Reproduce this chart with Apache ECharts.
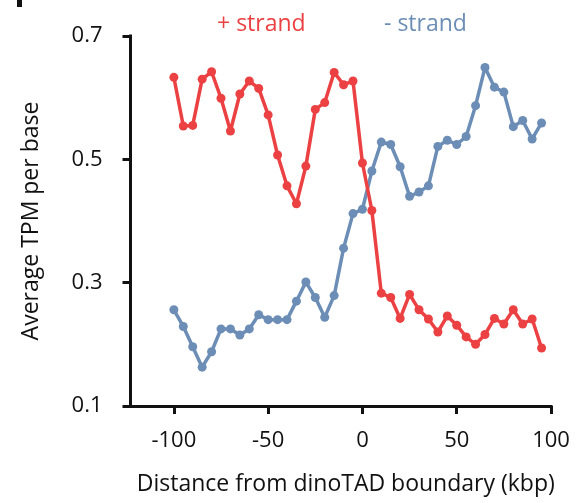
<!DOCTYPE html>
<html>
<head>
<meta charset="utf-8">
<script src="https://cdn.jsdelivr.net/npm/echarts@6/dist/echarts.min.js"></script>
<style>
  html, body { margin: 0; padding: 0; background: #fff; }
  #chart { width: 586px; height: 503px; }
</style>
</head>
<body>
<div id="chart"></div>
<script>
// Bin centres (kbp from boundary)
const distances = [
  -100, -95, -90, -85, -80, -75, -70, -65, -60, -55,
  -50, -45, -40, -35, -30, -25, -20, -15, -10, -5,
  0, 5, 10, 15, 20, 25, 30, 35, 40, 45,
  50, 55, 60, 65, 70, 75, 80, 85, 90, 95
];

// Average TPM per base, + strand
const plusStrand = [
  0.633, 0.554, 0.555, 0.630, 0.642, 0.599, 0.546, 0.606, 0.627, 0.615,
  0.572, 0.507, 0.457, 0.428, 0.489, 0.581, 0.592, 0.641, 0.621, 0.627,
  0.494, 0.417, 0.283, 0.276, 0.242, 0.281, 0.256, 0.241, 0.220, 0.246,
  0.231, 0.212, 0.200, 0.216, 0.242, 0.233, 0.256, 0.233, 0.241, 0.194
];

// Average TPM per base, - strand
const minusStrand = [
  0.256, 0.229, 0.196, 0.163, 0.188, 0.225, 0.225, 0.215, 0.225, 0.248,
  0.240, 0.240, 0.240, 0.270, 0.301, 0.276, 0.244, 0.279, 0.356, 0.412,
  0.419, 0.481, 0.528, 0.524, 0.488, 0.440, 0.447, 0.457, 0.521, 0.531,
  0.524, 0.537, 0.587, 0.649, 0.617, 0.609, 0.553, 0.563, 0.533, 0.559
];

const xTicks = [-100, -50, 0, 50, 100];
const yTicks = [0.1, 0.3, 0.5, 0.7];

const seriesNames = ['+ strand', '- strand'];
const RED = '#EC4143';
const BLUE = '#6C8EB6';
const FONT = 'Open Sans';

const pairs = (ys) => distances.map((d, i) => [d, ys[i]]);

const chart = echarts.init(document.getElementById('chart'), null, { renderer: 'canvas' });

const axisCommon = {
  axisLine: { show: true, onZero: false, lineStyle: { color: '#111', width: 3, cap: 'square' } },
  axisTick: { show: true, length: 8, lineStyle: { color: '#111', width: 3 } },
  splitLine: { show: false },
  axisLabel: { color: '#111', fontFamily: FONT, fontSize: 22 },
  nameTextStyle: { color: '#111', fontFamily: FONT, fontSize: 23 }
};

chart.setOption({
  animation: false,
  backgroundColor: '#fff',
  textStyle: { fontFamily: FONT },
  grid: { left: 130.5, right: 35, top: 36, bottom: 97, containLabel: false },
  legend: [
    {
      data: [{ name: seriesNames[0], icon: 'none', textStyle: { color: RED } }],
      left: 207, top: 8, itemWidth: 0, itemHeight: 0,
      textStyle: { fontFamily: FONT, fontSize: 23 },
      selectedMode: false
    },
    {
      data: [{ name: seriesNames[1], icon: 'none', textStyle: { color: BLUE } }],
      left: 374, top: 8, itemWidth: 0, itemHeight: 0,
      textStyle: { fontFamily: FONT, fontSize: 23 },
      selectedMode: false
    }
  ],
  xAxis: Object.assign({}, axisCommon, {
    type: 'value',
    min: -123,
    max: 100,
    name: 'Distance from dinoTAD boundary (kbp)',
    nameLocation: 'middle',
    nameGap: 67,
    nameTextStyle: Object.assign({}, axisCommon.nameTextStyle, { padding: [0, 0, 0, 10] }),
    axisTick: Object.assign({}, axisCommon.axisTick, { customValues: xTicks }),
    axisLabel: Object.assign({}, axisCommon.axisLabel, { customValues: xTicks, margin: 24 })
  }),
  yAxis: Object.assign({}, axisCommon, {
    type: 'value',
    min: 0.1,
    max: 0.7,
    name: 'Average TPM per base',
    nameLocation: 'middle',
    nameGap: 88,
    axisTick: Object.assign({}, axisCommon.axisTick, { customValues: yTicks }),
    axisLabel: Object.assign({}, axisCommon.axisLabel, {
      customValues: yTicks,
      margin: 28,
      formatter: (v) => v.toFixed(1)
    })
  }),
  series: [
    {
      name: seriesNames[0],
      type: 'line',
      data: pairs(plusStrand),
      color: RED,
      lineStyle: { width: 3.5, color: RED },
      symbol: 'circle',
      symbolSize: 9,
      itemStyle: { color: RED },
      z: 3
    },
    {
      name: seriesNames[1],
      type: 'line',
      data: pairs(minusStrand),
      color: BLUE,
      lineStyle: { width: 3.5, color: BLUE },
      symbol: 'circle',
      symbolSize: 9,
      itemStyle: { color: BLUE },
      z: 2
    }
  ],
  graphic: [
    // fragment of the panel letter at the top-left corner
    { type: 'rect', left: 17, top: 0, shape: { width: 5, height: 7 }, style: { fill: '#111' } }
  ]
});
</script>
</body>
</html>
